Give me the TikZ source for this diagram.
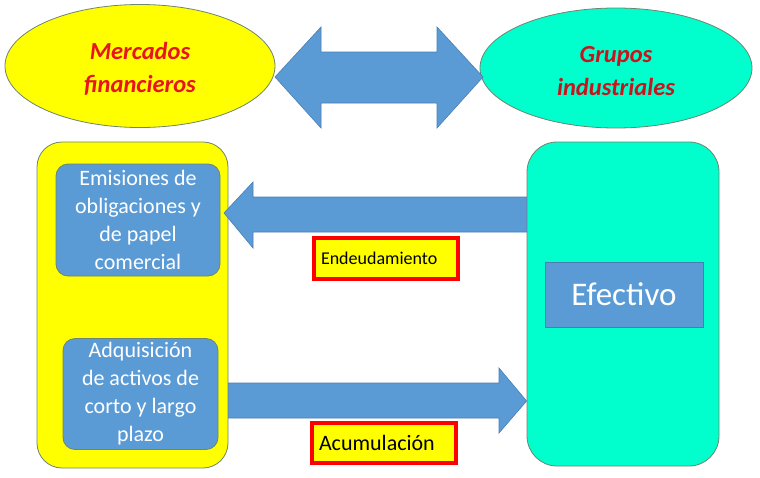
\documentclass[tikz,border=0pt]{standalone}
\usepackage{fontspec}
\setmainfont{Carlito}
\usetikzlibrary{shapes.geometric}
\definecolor{ayel}{HTML}{FFFF00}
\definecolor{acyan}{HTML}{00FFCC}
\definecolor{ablue}{HTML}{5B9BD5}
\definecolor{abluedark}{HTML}{4A7EB3}
\definecolor{aborder}{HTML}{6E8570}
\definecolor{redA}{HTML}{E8141E}
\definecolor{redB}{HTML}{C8141E}
\tikzset{
  ellnode/.style={ellipse, draw=aborder, line width=0.8pt, inner sep=0pt},
  elltext/.style={align=center, inner sep=0pt, yshift=-3pt,
    font=\fontsize{24.5}{33}\selectfont\bfseries\itshape},
  bigbox/.style={rectangle, draw=aborder, line width=0.8pt, inner sep=0pt},
  innerbox/.style={rectangle, rounded corners=12pt, fill=ablue, draw=aborder, line width=0.8pt,
    inner sep=0pt, align=center, text=white, font=\fontsize{22}{28}\selectfont},
  blockarrow/.style={fill=ablue, draw=abluedark, line width=0.6pt, line join=miter},
  lblbox/.style={rectangle, fill=ayel, draw=red, line width=3.5pt, inner xsep=7pt, inner ysep=0pt,
    text width=130pt, align=left, text=black},
}
\begin{document}
\begin{tikzpicture}[x=1pt,y=-1pt]
\useasboundingbox[fill=white] (0,0) rectangle (760,477);
% top ellipses
\node[ellnode, fill=ayel, minimum width=270pt, minimum height=123pt,
  label={[elltext, text=redA]center:Mercados\\financieros}] (merc) at (140,66) {};
\node[ellnode, fill=acyan, minimum width=272pt, minimum height=120pt,
  label={[elltext, text=redB]center:Grupos\\industriales}] (grup) at (616,68) {};
% double arrow
\coordinate (dl) at (275,77);
\coordinate (dr) at (483,77);
\filldraw[blockarrow] (dl) -- (321,27) -- (321,52) -- (437,52) -- (437,27) -- (dr)
  -- (437,128) -- (437,103) -- (321,103) -- (321,128) -- cycle;
% big boxes
\node[bigbox, fill=ayel, rounded corners=25pt, minimum width=191pt, minimum height=326pt] (lbox) at (132.5,305) {};
\node[bigbox, fill=acyan, rounded corners=30pt, minimum width=192pt, minimum height=324pt] (rbox) at (623,304) {};
% inner boxes
\node[innerbox, minimum width=164pt, minimum height=112pt] (emis) at (138,220) {Emisiones de\\obligaciones y\\de papel\\comercial};
\node[innerbox, minimum width=155pt, minimum height=111pt] (adq) at (140.5,394) {Adquisición\\de activos de\\corto y largo\\plazo};
\node[rectangle, fill=ablue, draw=abluedark, line width=0.8pt, inner sep=0pt, text=white,
  font=\fontsize{33}{36}\selectfont, minimum width=158pt, minimum height=65pt] (efec) at (624,294.5) {Efectivo};
% horizontal block arrows
\filldraw[blockarrow] (rbox.west |- 0,197) -- (253,197) -- (253,182) -- (224,213) -- (253,248) -- (253,232) -- (rbox.west |- 0,232) -- cycle;
\filldraw[blockarrow] (lbox.east |- 0,383) -- (499,383) -- (499,368) -- (rbox.west |- 0,401) -- (499,433) -- (499,418) -- (lbox.east |- 0,418) -- cycle;
% labels
\node[lblbox, font=\fontsize{18}{20}\selectfont, minimum height=41pt] (endeu) at (386,258.5) {Endeudamiento};
\node[lblbox, font=\fontsize{22}{24}\selectfont, minimum height=40pt] (acum) at (384,443) {Acumulación};
\end{tikzpicture}
\end{document}
